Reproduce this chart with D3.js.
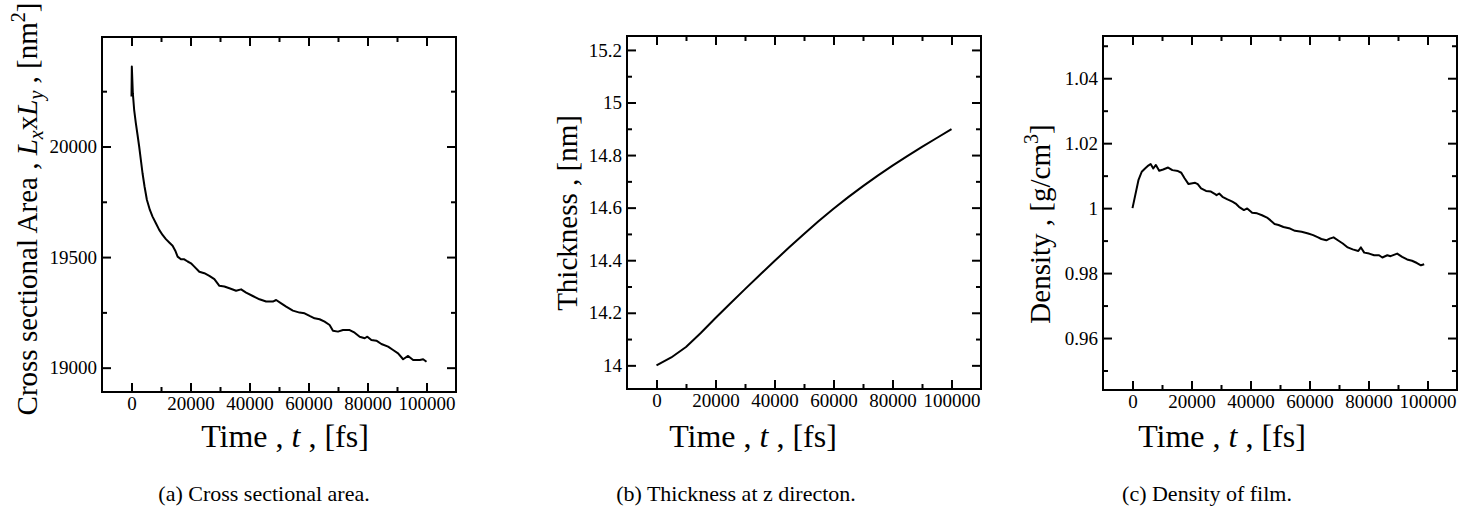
<!DOCTYPE html>
<html>
<head>
<meta charset="utf-8">
<script src="https://cdn.jsdelivr.net/npm/d3@7"></script>
<style>
  body { margin: 0; background: #fff; }
  svg text { font-family: "Liberation Serif", "Times New Roman", Times, "DejaVu Serif", serif; fill: #000; }
</style>
</head>
<body>
<div id="wrapper"></div>
<script>
// ---- data ----
const timeMajorTicks = [0, 20000, 40000, 60000, 80000, 100000];
const timeMinorTicks = [10000, 30000, 50000, 70000, 90000];
const timeTickLabels = ["0", "20000", "40000", "60000", "80000", "100000"];

// (a) cross sectional area
const areaTime = [0, 110, 450, 900, 1470, 2040, 2600, 3170, 3740, 4420, 5210, 6230, 7130, 8270, 9400,
  10530, 11660, 12800, 13930, 14840, 15630, 16760, 17890, 19030, 20160, 21290, 22990, 24690, 26390,
  28090, 29790, 31480, 33180, 35450, 37150, 38850, 41110, 43380, 45640, 47910, 49040, 50740, 52430,
  54700, 56970, 58660, 60360, 62060, 63760, 65460, 67160, 68290, 69990, 71690, 73950, 75650, 77350,
  79050, 79950, 81310, 83010, 84710, 86980, 88670, 90370, 92070, 93770, 95470, 97730, 98860, 100000];
const areaValues = [20226, 20362, 20241, 20166, 20106, 20053, 20000, 19940, 19879, 19819, 19759, 19713,
  19683, 19653, 19623, 19600, 19581, 19566, 19551, 19529, 19502, 19490, 19490, 19480, 19472, 19457,
  19434, 19427, 19415, 19400, 19370, 19367, 19359, 19348, 19354, 19339, 19324, 19309, 19299, 19299,
  19306, 19291, 19276, 19258, 19249, 19246, 19234, 19223, 19219, 19208, 19193, 19167, 19163, 19170,
  19170, 19158, 19140, 19133, 19140, 19125, 19122, 19107, 19095, 19080, 19065, 19038, 19053, 19035,
  19035, 19038, 19027];
const areaMajorTicks = [19000, 19500, 20000];
const areaMinorTicks = [19250, 19750, 20250];
const areaTickLabels = ["19000", "19500", "20000"];

// (b) thickness
const thicknessTime = [0, 5000, 10000, 15000, 20000, 25000, 30000, 35000, 40000, 45000, 50000,
  55000, 60000, 65000, 70000, 75000, 80000, 85000, 90000, 95000, 100000];
const thicknessValues = [14.000, 14.030, 14.070, 14.123, 14.180, 14.235, 14.290, 14.344, 14.397,
  14.449, 14.500, 14.549, 14.596, 14.640, 14.682, 14.722, 14.760, 14.796, 14.831, 14.865, 14.899];
const thicknessMajorTicks = [14, 14.2, 14.4, 14.6, 14.8, 15, 15.2];
const thicknessMinorTicks = [14.1, 14.3, 14.5, 14.7, 14.9, 15.1];
const thicknessTickLabels = ["14", "14.2", "14.4", "14.6", "14.8", "15", "15.2"];

// (c) density
const densityTime = [0, 2010, 3130, 4250, 5360, 6150, 7040, 7930, 9050, 10390, 12070, 13520, 15420,
  16540, 17650, 18990, 19890, 21230, 22120, 23240, 24920, 26590, 27710, 28490, 29390, 30500, 32180,
  33860, 34970, 36090, 37770, 38880, 40560, 42230, 43910, 45590, 46700, 48160, 49500, 51170, 53410,
  55080, 57320, 59550, 61230, 62910, 64020, 65700, 66820, 68160, 69610, 71280, 72960, 74640, 76540,
  77430, 78550, 80220, 81900, 83580, 84690, 86370, 87490, 89720, 91400, 93080, 94750, 96420, 97770, 98880];
const densityValues = [1.0000, 1.0086, 1.0112, 1.0122, 1.0131, 1.0136, 1.0122, 1.0133, 1.0115, 1.0119,
  1.0125, 1.0117, 1.0114, 1.0109, 1.0092, 1.0074, 1.0076, 1.0078, 1.0074, 1.0061, 1.0053, 1.0051,
  1.0045, 1.0040, 1.0045, 1.0035, 1.0027, 1.0020, 1.0014, 1.0004, 0.9994, 0.9999, 0.9986, 0.9984,
  0.9978, 0.9971, 0.9963, 0.9951, 0.9948, 0.9942, 0.9937, 0.9930, 0.9927, 0.9922, 0.9917, 0.9910,
  0.9905, 0.9901, 0.9906, 0.9910, 0.9901, 0.9891, 0.9879, 0.9873, 0.9868, 0.9879, 0.9863, 0.9860,
  0.9855, 0.9855, 0.9848, 0.9855, 0.9852, 0.9860, 0.9850, 0.9842, 0.9838, 0.9831, 0.9824, 0.9827];
const densityMajorTicks = [0.96, 0.98, 1, 1.02, 1.04];
const densityMinorTicks = [0.95, 0.97, 0.99, 1.01, 1.03, 1.05];
const densityTickLabels = ["0.96", "0.98", "1", "1.02", "1.04"];

const captions = ["(a) Cross sectional area.", "(b) Thickness at z directon.", "(c) Density of film."];

// ---- drawing ----
const width = 1479;
const height = 516;
const serif = "'Liberation Serif', 'Times New Roman', Times, 'DejaVu Serif', serif";

const svg = d3.select("#wrapper")
  .append("svg")
  .attr("width", width)
  .attr("height", height)
  .style("font-family", serif);

function styleAxis(g, fontSize) {
  g.attr("font-family", null);
  g.select(".domain").remove();
  g.selectAll(".tick line").attr("stroke", "#000").attr("stroke-width", 2);
  g.selectAll(".tick text")
    .style("font-family", serif)
    .attr("font-size", fontSize)
    .attr("fill", "#000");
}

function drawPanel(p) {
  const xScale = d3.scaleLinear().domain([-10000, 110000]).range([p.left, p.left + p.w]);
  const yScale = d3.scaleLinear().domain(p.yDomain).range([p.top + p.h, p.top]);

  const major = 9, minor = 5;

  // bottom
  svg.append("g")
    .attr("transform", `translate(0,${p.top + p.h})`)
    .call(d3.axisBottom(xScale).tickValues(timeMajorTicks).tickSize(-major).tickPadding(5)
      .tickFormat((d, i) => timeTickLabels[i]))
    .call(styleAxis, 19);
  svg.append("g")
    .attr("transform", `translate(0,${p.top + p.h})`)
    .call(d3.axisBottom(xScale).tickValues(timeMinorTicks).tickSize(-minor).tickFormat(""))
    .call(styleAxis, 19);
  // top
  svg.append("g")
    .attr("transform", `translate(0,${p.top})`)
    .call(d3.axisTop(xScale).tickValues(timeMajorTicks).tickSize(-major).tickFormat(""))
    .call(styleAxis, 19);
  svg.append("g")
    .attr("transform", `translate(0,${p.top})`)
    .call(d3.axisTop(xScale).tickValues(timeMinorTicks).tickSize(-minor).tickFormat(""))
    .call(styleAxis, 19);
  // left
  svg.append("g")
    .attr("transform", `translate(${p.left},0)`)
    .call(d3.axisLeft(yScale).tickValues(p.yMajor).tickSize(-major).tickPadding(5)
      .tickFormat((d, i) => p.yLabels[i]))
    .call(styleAxis, 19);
  svg.append("g")
    .attr("transform", `translate(${p.left},0)`)
    .call(d3.axisLeft(yScale).tickValues(p.yMinor).tickSize(-minor).tickFormat(""))
    .call(styleAxis, 19);
  // right
  svg.append("g")
    .attr("transform", `translate(${p.left + p.w},0)`)
    .call(d3.axisRight(yScale).tickValues(p.yMajor).tickSize(-major).tickFormat(""))
    .call(styleAxis, 19);
  svg.append("g")
    .attr("transform", `translate(${p.left + p.w},0)`)
    .call(d3.axisRight(yScale).tickValues(p.yMinor).tickSize(-minor).tickFormat(""))
    .call(styleAxis, 19);

  // data line
  const lineGenerator = d3.line()
    .x((d, i) => xScale(p.xs[i]))
    .y((d) => yScale(d));
  svg.append("path")
    .attr("d", lineGenerator(p.ys))
    .attr("fill", "none")
    .attr("stroke", "#000")
    .attr("stroke-width", 2)
    .attr("stroke-linejoin", "round");

  // frame
  svg.append("rect")
    .attr("x", p.left)
    .attr("y", p.top)
    .attr("width", p.w)
    .attr("height", p.h)
    .attr("fill", "none")
    .attr("stroke", "#000")
    .attr("stroke-width", 2);

  // x axis title
  const xt = svg.append("text")
    .attr("x", p.xTitleX)
    .attr("y", 447)
    .attr("text-anchor", "middle")
    .attr("font-size", 32);
  xt.append("tspan").text("Time , ");
  xt.append("tspan").attr("font-style", "italic").text("t");
  xt.append("tspan").text(" , [fs]");

  // y axis title
  const yt = svg.append("text")
    .attr("transform", `translate(${p.yTitleX},${p.yTitleY}) rotate(-90)`)
    .attr("text-anchor", "middle")
    .attr("font-size", 29);
  p.yTitle(yt);

  // caption
  svg.append("text")
    .attr("x", p.captionX)
    .attr("y", 501)
    .attr("text-anchor", "middle")
    .attr("font-size", 22)
    .text(p.caption);
}

drawPanel({
  left: 102, top: 37, w: 354, h: 355,
  yDomain: [18890, 20495],
  xs: areaTime, ys: areaValues,
  yMajor: areaMajorTicks, yMinor: areaMinorTicks, yLabels: areaTickLabels,
  xTitleX: 285, yTitleX: 37, yTitleY: 209, captionX: 264, caption: captions[0],
  yTitle: (t) => {
    t.append("tspan").text("Cross sectional Area , ");
    t.append("tspan").attr("font-style", "italic").text("L");
    t.append("tspan").attr("font-style", "italic").attr("font-size", 20).attr("dy", 6).text("x");
    t.append("tspan").attr("dy", -6).text("x");
    t.append("tspan").attr("font-style", "italic").text("L");
    t.append("tspan").attr("font-style", "italic").attr("font-size", 20).attr("dy", 6).text("y");
    t.append("tspan").attr("dy", -6).text(" , [nm");
    t.append("tspan").attr("font-size", 20).attr("dy", -12).text("2");
    t.append("tspan").attr("dy", 12).text("]");
  },
});

drawPanel({
  left: 627, top: 36, w: 354, h: 353,
  yDomain: [13.91, 15.253],
  xs: thicknessTime, ys: thicknessValues,
  yMajor: thicknessMajorTicks, yMinor: thicknessMinorTicks, yLabels: thicknessTickLabels,
  xTitleX: 753, yTitleX: 577, yTitleY: 213, captionX: 736, caption: captions[1],
  yTitle: (t) => {
    t.append("tspan").text("Thickness , [nm]");
  },
});

drawPanel({
  left: 1103, top: 36, w: 354, h: 354,
  yDomain: [0.944, 1.053],
  xs: densityTime, ys: densityValues,
  yMajor: densityMajorTicks, yMinor: densityMinorTicks, yLabels: densityTickLabels,
  xTitleX: 1222, yTitleX: 1050, yTitleY: 224, captionX: 1207, caption: captions[2],
  yTitle: (t) => {
    t.append("tspan").text("Density , [g/cm");
    t.append("tspan").attr("font-size", 20).attr("dy", -12).text("3");
    t.append("tspan").attr("dy", 12).text("]");
  },
});
</script>
</body>
</html>
